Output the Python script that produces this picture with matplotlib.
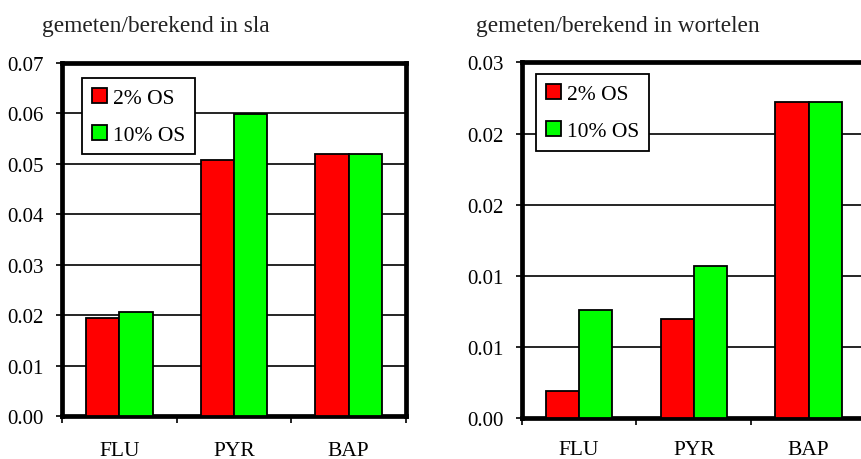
import numpy as np
import matplotlib
matplotlib.use("Agg")
import matplotlib.pyplot as plt

categories = ["FLU", "PYR", "BAP"]
series_names = ["2% OS", "10% OS"]
sla_2 = [0.0194, 0.0507, 0.0519]
sla_10 = [0.0206, 0.0598, 0.0519]
wortel_2 = [0.0019, 0.0070, 0.0222]
wortel_10 = [0.0076, 0.0107, 0.0222]
sla_ticks = [0.00, 0.01, 0.02, 0.03, 0.04, 0.05, 0.06, 0.07]
sla_ticklabels = ["0.00", "0.01", "0.02", "0.03", "0.04", "0.05", "0.06", "0.07"]
wortel_ticks = [0.000, 0.005, 0.010, 0.015, 0.020, 0.025]
wortel_ticklabels = ["0.00", "0.01", "0.01", "0.02", "0.02", "0.03"]
titles = ["gemeten/berekend in sla", "gemeten/berekend in wortelen"]
colors = ["#FF0000", "#00FF00"]

plt.rcParams['font.family'] = ['Liberation Serif', 'DejaVu Serif']

W, H = 861, 460
fig = plt.figure(figsize=(W / 100, H / 100), dpi=100)

def make_axes(x0, x1, ytop, ybot):
    return fig.add_axes([x0 / W, 1 - ybot / H, (x1 - x0) / W, (ybot - ytop) / H])

ax1 = make_axes(62, 406, 64, 417)
ax2 = make_axes(521.7, 866, 63.3, 419.3)

def draw(ax, v2, v10, yticks, yticklabels, title, title_xy, leg_anchor, xpad):
    x = np.arange(len(categories))
    w = 0.29
    ax.bar(x - w / 2, v2, w, color=colors[0], edgecolor="black", linewidth=1.3,
           label=series_names[0], zorder=3)
    ax.bar(x + w / 2, v10, w, color=colors[1], edgecolor="black", linewidth=1.3,
           label=series_names[1], zorder=3)
    ax.set_xlim(-0.5, len(categories) - 0.5)
    ax.set_ylim(yticks[0], yticks[-1])
    ax.set_yticks(yticks)
    ax.set_yticklabels(yticklabels)
    ax.yaxis.grid(True, color="black", linewidth=1.2, zorder=0)
    ax.set_axisbelow(True)
    ax.set_xticks(np.arange(len(categories) + 1) - 0.5)
    ax.set_xticklabels([])
    ax.set_xticks(x, minor=True)
    ax.set_xticklabels(categories, minor=True)
    ax.tick_params(axis="x", which="major", direction="out", length=5, width=1.2)
    ax.tick_params(axis="x", which="minor", length=0, pad=xpad, labelsize=15.5)
    ax.tick_params(axis="y", direction="out", length=4, width=1.2, pad=9, labelsize=15)
    for s in ax.spines.values():
        s.set_linewidth(3.4)
        s.set_color("black")
    ax.text(title_xy[0], title_xy[1], title, transform=ax.transAxes, fontsize=16.8,
            ha="left", va="baseline", color="#222222")
    leg = ax.legend(loc="upper left", bbox_to_anchor=leg_anchor, borderaxespad=0,
                    fontsize=15.5, frameon=True, fancybox=False, shadow=False,
                    handlelength=0.7, handleheight=0.7, handletextpad=0.3,
                    labelspacing=0.78, borderpad=0.45)
    fr = leg.get_frame()
    fr.set_edgecolor("black")
    fr.set_linewidth(1.3)
    fr.set_alpha(1)

draw(ax1, sla_2, sla_10, sla_ticks, sla_ticklabels, titles[0],
     ((42 - 62) / 344, 1.092), (0.058, 0.957), 18)
draw(ax2, wortel_2, wortel_10, wortel_ticks, wortel_ticklabels, titles[1],
     ((476 - 521.7) / 344, 1.087), (0.042, 0.966), 15.5)

fig.savefig("out.png", dpi=100)
